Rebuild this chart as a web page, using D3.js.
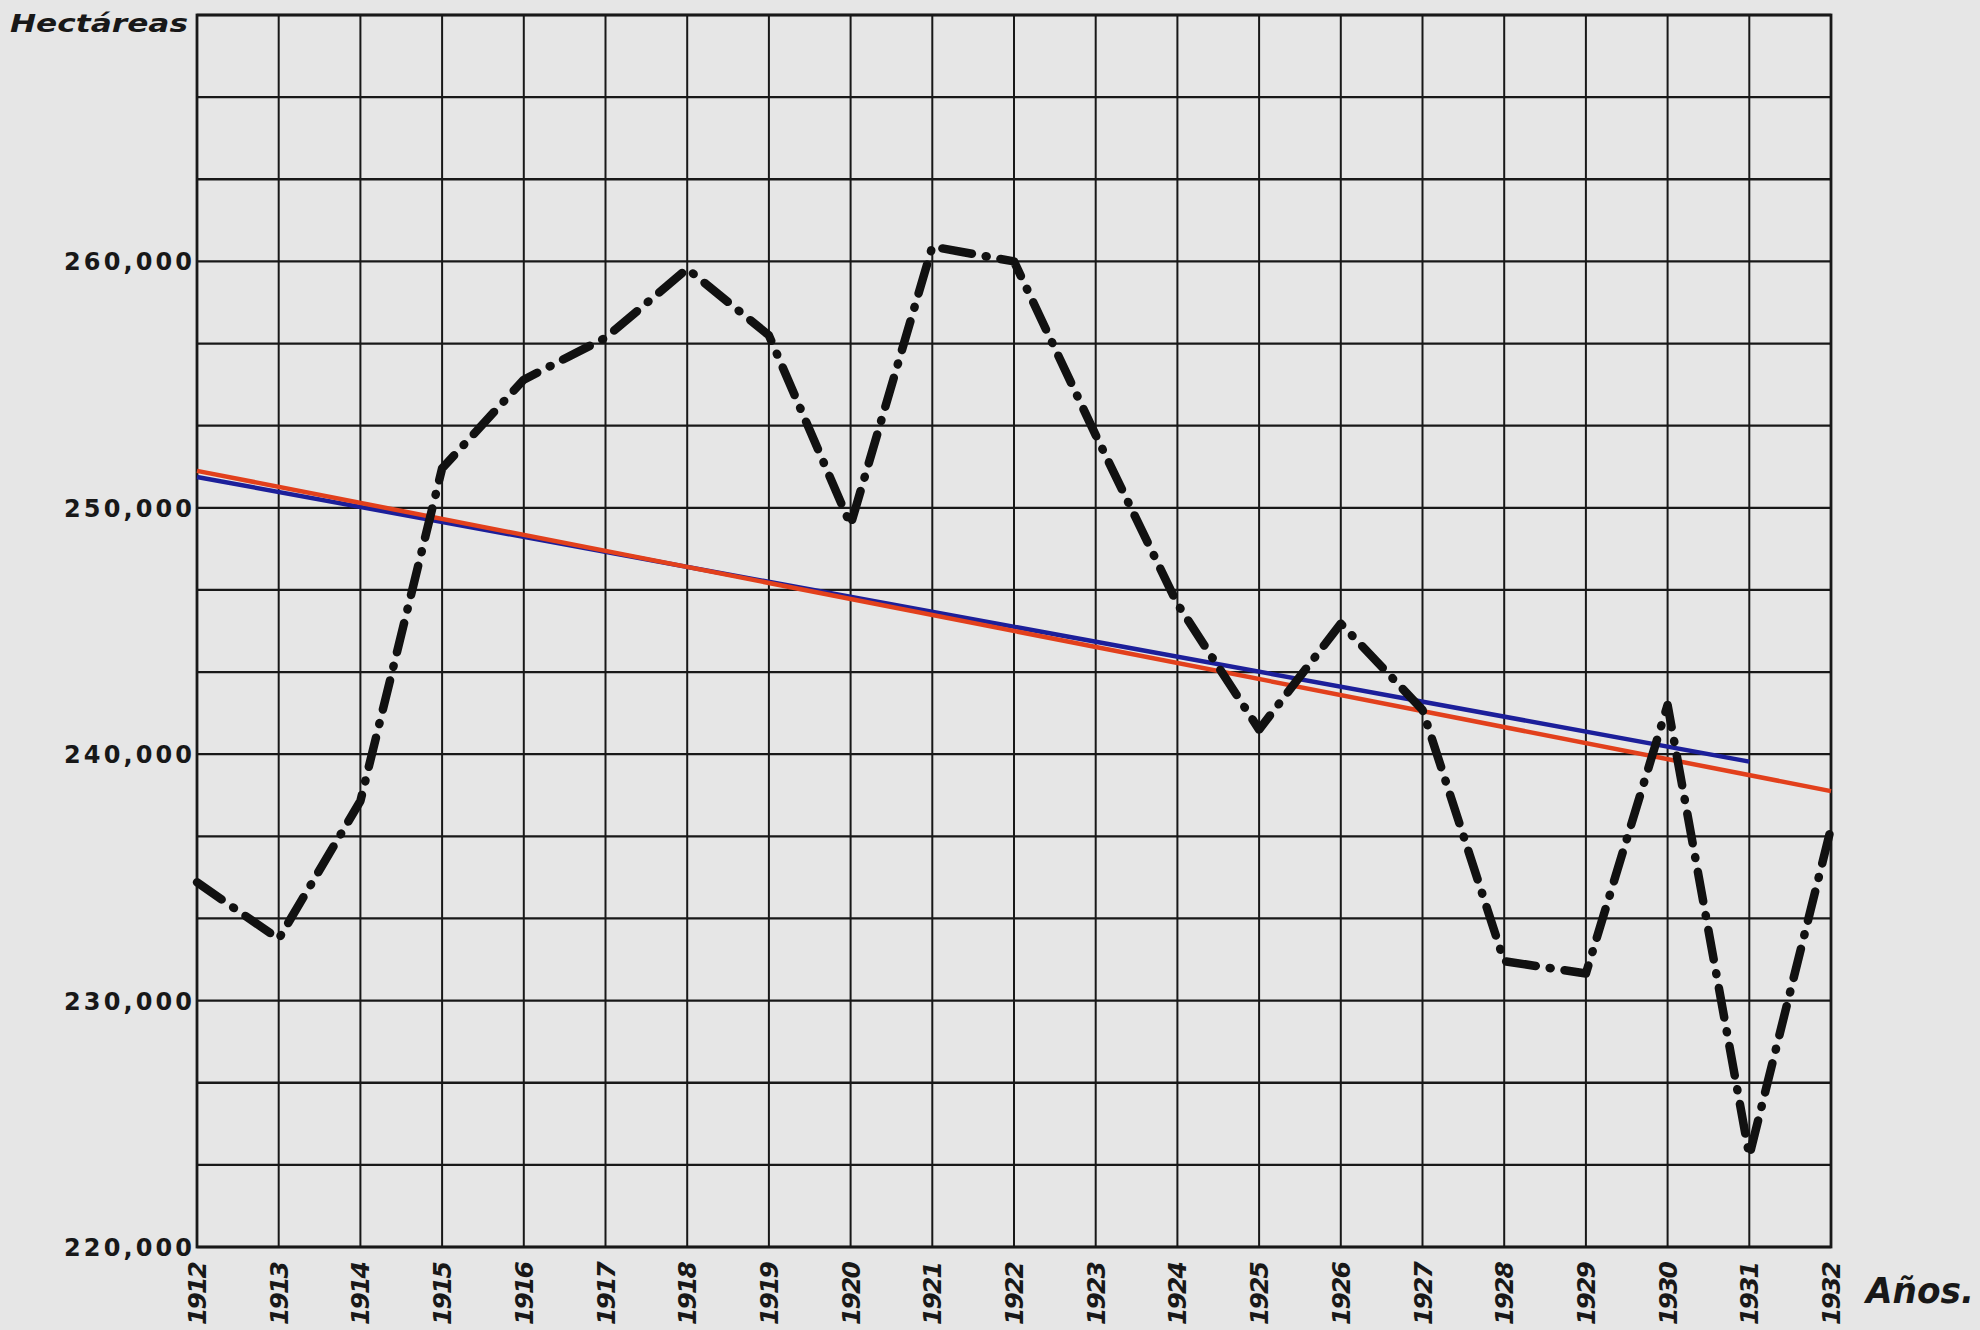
<!DOCTYPE html>
<html>
<head>
<meta charset="utf-8">
<script src="https://cdn.jsdelivr.net/npm/d3@7"></script>
<style>
  html, body { margin: 0; padding: 0; background: #e6e6e6; }
  svg { display: block; }
</style>
</head>
<body>
<script>
// ---- data ----
const years = [1912,1913,1914,1915,1916,1917,1918,1919,1920,1921,1922,1923,1924,1925,1926,1927,1928,1929,1930,1931,1932];
const hectareas = [234800,232500,238100,251600,255200,256900,259700,257000,249300,260600,260000,252950,246100,241000,245300,241800,231600,231100,242000,223700,237000];
const redTrendYears = [1912, 1932];
const redTrendValues = [251500, 238500];
const blueTrendYears = [1912, 1931];
const blueTrendValues = [251250, 239700];
const yTickValues = [220000, 230000, 240000, 250000, 260000];
const yTickLabels = ["220,000", "230,000", "240,000", "250,000", "260,000"];
const yAxisTitle = "Hectáreas";
const xAxisTitle = "Años.";

(function () {
// ---- layout ----
const W = 1980, H = 1330;
const mLeft = 197, mRight = 1831, mTop = 15, mBottom = 1247;

const svg = d3.select("body").append("svg").attr("width", W).attr("height", H);
svg.append("rect").attr("width", W).attr("height", H).attr("fill", "#e6e6e6");

const x = d3.scaleLinear().domain([1912, 1932]).range([mLeft, mRight]);
const y = d3.scaleLinear().domain([220000, 270000]).range([mBottom, mTop]);

const ink = "#181818";
const grid = svg.append("g");
// vertical grid: one per year
grid.selectAll("line.v").data(years).enter().append("line")
  .attr("x1", d => x(d)).attr("x2", d => x(d))
  .attr("y1", y(270000)).attr("y2", y(220000))
  .attr("stroke", ink).attr("stroke-width", 2);
// horizontal grid: every 10,000/3
const hGrid = d3.range(0, 16).map(i => 220000 + i * 10000 / 3);
grid.selectAll("line.h").data(hGrid).enter().append("line")
  .attr("x1", x(1912)).attr("x2", x(1932))
  .attr("y1", d => y(d)).attr("y2", d => y(d))
  .attr("stroke", ink).attr("stroke-width", 2.3);
// border
grid.append("rect")
  .attr("x", x(1912)).attr("y", y(270000))
  .attr("width", x(1932) - x(1912)).attr("height", y(220000) - y(270000))
  .attr("fill", "none").attr("stroke", ink).attr("stroke-width", 2.8);

// y tick labels
svg.selectAll("text.ytick").data(yTickValues).enter().append("text")
  .attr("x", mLeft - 5).attr("y", d => y(d) + 9)
  .attr("text-anchor", "end")
  .attr("font-family", "DejaVu Sans")
  .attr("font-weight", "bold")
  .attr("font-size", 24)
  .attr("fill", ink)
  .attr("textLength", 128).attr("lengthAdjust", "spacing")
  .text((d, i) => yTickLabels[i]);

// x tick labels (rotated)
svg.selectAll("text.xtick").data(years).enter().append("text")
  .attr("transform", d => `translate(${x(d) + 9},${mBottom + 14}) rotate(-90)`)
  .attr("text-anchor", "end")
  .attr("font-family", "DejaVu Sans")
  .attr("font-weight", "bold")
  .attr("font-style", "italic")
  .attr("font-size", 25)
  .attr("fill", ink)
  .attr("textLength", 64).attr("lengthAdjust", "spacing")
  .text(d => String(d));

// axis titles
svg.append("text")
  .attr("x", 10).attr("y", 32)
  .attr("font-family", "DejaVu Sans")
  .attr("font-weight", "bold").attr("font-style", "italic")
  .attr("font-size", 25).attr("fill", ink)
  .attr("textLength", 178).attr("lengthAdjust", "spacingAndGlyphs")
  .text(yAxisTitle);
svg.append("text")
  .attr("x", 1866).attr("y", 1303)
  .attr("font-family", "DejaVu Sans")
  .attr("font-weight", "bold").attr("font-style", "italic")
  .attr("font-size", 36).attr("fill", ink)
  .attr("textLength", 108).attr("lengthAdjust", "spacingAndGlyphs")
  .text(xAxisTitle);

// trend lines
const line = d3.line().x(d => x(d[0])).y(d => y(d[1]));
svg.append("path")
  .datum(blueTrendYears.map((yr, i) => [yr, blueTrendValues[i]]))
  .attr("d", line).attr("fill", "none")
  .attr("stroke", "#1c1f9a").attr("stroke-width", 4.5);
svg.append("path")
  .datum(redTrendYears.map((yr, i) => [yr, redTrendValues[i]]))
  .attr("d", line).attr("fill", "none")
  .attr("stroke", "#e2401c").attr("stroke-width", 4.5);

// main dash-dot series
svg.append("path")
  .datum(years.map((yr, i) => [yr, hectareas[i]]))
  .attr("d", line).attr("fill", "none")
  .attr("stroke", "#111").attr("stroke-width", 8.5)
  .attr("stroke-linecap", "round").attr("stroke-linejoin", "round")
  .attr("stroke-dasharray", "30,14,1,14");
})();
</script>
</body>
</html>
